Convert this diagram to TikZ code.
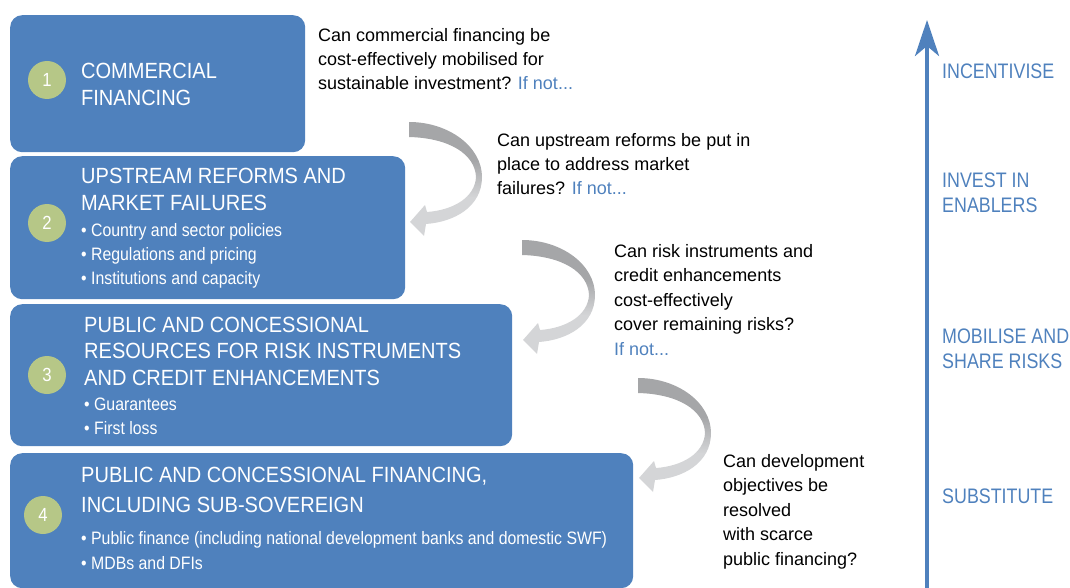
\documentclass[tikz,border=0pt]{standalone}
\usepackage{fontspec}
\setmainfont{Liberation Sans}
\newfontfamily\boxfont[FakeStretch=0.88]{Liberation Sans}
\newfontfamily\titlefont[FakeStretch=0.91]{Liberation Sans}
\newfontfamily\sidefont[FakeStretch=0.85]{Liberation Sans}
\usetikzlibrary{arrows.meta}
\definecolor{boxblue}{HTML}{4F81BD}
\definecolor{numgreen}{RGB}{182,199,135}
\definecolor{arrowdark}{HTML}{A5A6A8}
\definecolor{arrowlight}{HTML}{D4D5D7}
\definecolor{textblue}{HTML}{4F81BD}
\pgfdeclareverticalshading{grayarrow}{100bp}{color(0bp)=(arrowlight); color(42bp)=(arrowlight); color(58bp)=(arrowdark); color(100bp)=(arrowdark)}
\tikzset{
  curvearrow/.pic={
    \shade[shading=grayarrow] (0,0) .. controls (40,0) and (73,25) .. (73,55)
      .. controls (73,85) and (45,100) .. (17,102) -- (15,114) -- (1,100) -- (16,83) -- (18,90)
      .. controls (45,88) and (66,75) .. (67,55) .. controls (66,32) and (40,16) .. (0,15) -- cycle;
  }
}
\begin{document}
\begin{tikzpicture}[x=1pt,y=-1pt,
  stagebox/.style={fill=boxblue, rounded corners=12pt, anchor=north west, inner sep=0pt},
  numdot/.style={circle, fill=numgreen, minimum size=38pt, inner sep=0pt, text=white, font=\boxfont\fontsize{19}{20}\selectfont},
  title/.style={anchor=base west, align=left, inner sep=0pt, text=white, font=\titlefont\fontsize{22}{27}\selectfont},
  bullets/.style={anchor=base west, align=left, inner sep=0pt, text=white, font=\boxfont\fontsize{18}{24}\selectfont},
  question/.style={anchor=base west, align=left, inner sep=0pt, text=black, font=\fontsize{18}{24.4}\selectfont},
  side/.style={anchor=base west, align=left, inner sep=0pt, text=textblue, font=\sidefont\fontsize{21}{25}\selectfont}
  ]
\useasboundingbox (0,0) rectangle (1070,588);

% stage boxes
\node[stagebox, minimum width=295pt, minimum height=137pt] (box1) at (10,15) {};
\node[stagebox, minimum width=395pt, minimum height=143pt] (box2) at (10,156) {};
\node[stagebox, minimum width=502pt, minimum height=142pt] (box3) at (10,304) {};
\node[stagebox, minimum width=623pt, minimum height=135pt] (box4) at (10,453) {};

% numbers
\node[numdot] (n1) at (47,80) {1};
\node[numdot] (n2) at (47,223) {2};
\node[numdot] (n3) at (47,375) {3};
\node[numdot] (n4) at (43,515) {4};

% box texts (anchor = baseline of the last line)
\node[title] (t1) at (81,106) {COMMERCIAL\\FINANCING};
\node[title] (t2) at (81,210) {UPSTREAM REFORMS AND\\MARKET FAILURES};
\node[bullets] (b2) at (81,284) {• Country and sector policies\\• Regulations and pricing\\• Institutions and capacity};
\node[title, font=\titlefont\fontsize{22}{26.5}\selectfont] (t3) at (84,385) {PUBLIC AND CONCESSIONAL\\RESOURCES FOR RISK INSTRUMENTS\\AND CREDIT ENHANCEMENTS};
\node[bullets] (b3) at (84,434) {• Guarantees\\• First loss};
\node[title, font=\titlefont\fontsize{22}{30}\selectfont] (t4) at (81,512) {PUBLIC AND CONCESSIONAL FINANCING,\\INCLUDING SUB-SOVEREIGN};
\node[bullets, font=\boxfont\fontsize{18}{25}\selectfont] (b4) at (81,569) {• Public finance (including national development banks and domestic SWF)\\• MDBs and DFIs};

% questions
\node[question] (q1) at (318,90) {Can commercial financing be\\cost-effectively mobilised for\\sustainable investment? \textcolor{textblue}{If not...}};
\node[question] (q2) at (497,195) {Can upstream reforms be put in\\place to address market\\failures? \textcolor{textblue}{If not...}};
\node[question] (q3) at (614,355) {Can risk instruments and\\credit enhancements\\cost-effectively\\cover remaining risks?\\\textcolor{textblue}{If not...}};
\node[question] (q4) at (723,565) {Can development\\objectives be\\resolved\\with scarce\\public financing?};

% curved arrows
\pic at (409,122) {curvearrow};
\pic at (522,240) {curvearrow};
\pic at (638,378) {curvearrow};

% vertical axis
\coordinate (axbot) at (927,592);
\coordinate (axtop) at (927,20);
\draw[line width=4pt, textblue, -{Stealth[length=36pt,width=24pt,inset=10pt]}] (axbot) -- (axtop);

% side labels
\node[side] (s1) at (942,79) {INCENTIVISE};
\node[side] (s2) at (942,212) {INVEST IN\\ENABLERS};
\node[side] (s3) at (942,368) {MOBILISE AND\\SHARE RISKS};
\node[side] (s4) at (942,503) {SUBSTITUTE};
\end{tikzpicture}
\end{document}
